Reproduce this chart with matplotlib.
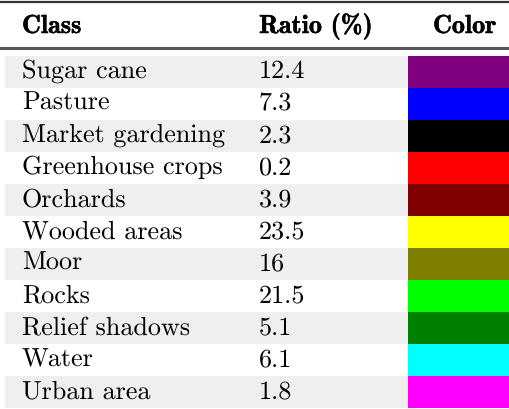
import matplotlib
matplotlib.use("Agg")
import matplotlib.pyplot as plt
from matplotlib.patches import Rectangle
import matplotlib.patheffects as pe

# table data
classes = ["Sugar cane", "Pasture", "Market gardening", "Greenhouse crops",
           "Orchards", "Wooded areas", "Moor", "Rocks", "Relief shadows",
           "Water", "Urban area"]
ratios = ["12.4", "7.3", "2.3", "0.2", "3.9", "23.5", "16", "21.5", "5.1",
          "6.1", "1.8"]
colors = ["#800080", "#0000ff", "#000000", "#ff0000", "#800000", "#ffff00",
          "#808000", "#00ff00", "#008000", "#00ffff", "#ff00ff"]
headers = ["Class", "Ratio (%)", "Color"]

plt.rcParams["text.hinting"] = "no_hinting"

W, H = 510, 409
fig = plt.figure(figsize=(W / 100, H / 100), dpi=100)
ax = fig.add_axes([0, 0, 1, 1])
ax.set_xlim(0, W)
ax.set_ylim(H, 0)
ax.axis("off")

# layout
row0 = 56
rh = 32
col_x = [22, 259]
head_x = col_x + [433]
sw_x0, sw_x1 = 408, W
fs = 18.8

# rules
ax.axhline(2, color="#333333", lw=1.6)
ax.axhline(48, color="#555555", lw=2.2)

# header
for x, h in zip(head_x, headers):
    ax.text(x, 33, h, fontsize=18.8, family="cmb10", va="baseline",
            ha="left", color="black",
            path_effects=[pe.withStroke(linewidth=0.35, foreground="black")])

for i, (c, r, col) in enumerate(zip(classes, ratios, colors)):
    top = row0 + i * rh
    if i % 2 == 0:
        ax.add_patch(Rectangle((5, top), sw_x0 - 5, rh, color="#efefef", lw=0))
    ax.add_patch(Rectangle((sw_x0, top), sw_x1 - sw_x0, rh, color=col, lw=0))
    ax.text(col_x[0], top + 22, c, fontsize=fs, family="cmr10", va="baseline")
    ax.text(col_x[1], top + 22, r, fontsize=fs, family="cmr10", va="baseline")

fig.savefig("out.png", dpi=100)
